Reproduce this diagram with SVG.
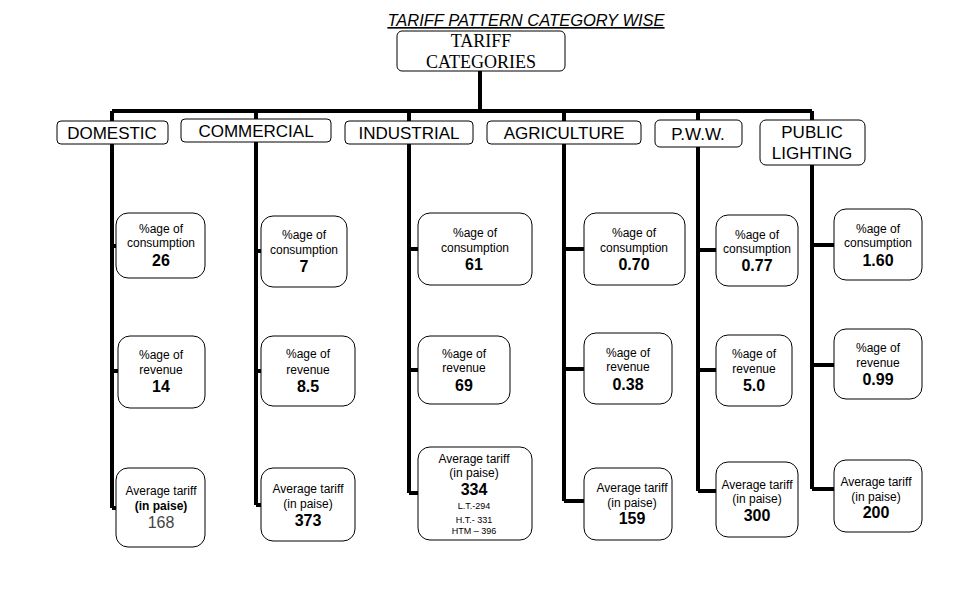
<svg xmlns="http://www.w3.org/2000/svg" width="972" height="612" viewBox="0 0 972 612">
<style>
.b{fill:#fff;stroke:#000;stroke-width:1}
.t{font-family:"Liberation Sans",Arial,sans-serif;font-size:12px;text-anchor:middle;fill:#000}
.v{font-family:"Liberation Sans",Arial,sans-serif;font-size:16px;font-weight:bold;text-anchor:middle}
.c{font-family:"Liberation Sans",Arial,sans-serif;font-size:17px;text-anchor:middle}
.s{font-family:"Liberation Sans",Arial,sans-serif;font-size:9px;text-anchor:middle}
.l{stroke:#000;stroke-width:4;fill:none}
</style>
<rect width="972" height="612" fill="#fff"/>
<text x="526" y="26" font-family="Liberation Sans,Arial,sans-serif" font-size="16.5" font-style="italic" text-anchor="middle" text-decoration="underline">TARIFF PATTERN CATEGORY WISE</text>
<g id="connectors">
<path class="l" d="M480 71V111M112 111H812M112 111V508M256 111V505M409 111V493M564 111V501M698 111V491M812 111V489"/>
<path class="l" d="M112 246H116M112 371H118M112 508H116M256 251H261M256 371H261M256 505H261M409 249H418M409 370H418M409 493H418M564 249H584M564 369H584M564 501H584M698 250H716M698 370H716M698 491H716M812 245H834M812 365H834M812 489H834"/>
</g>
<g id="root"><rect class="b" x="397" y="31" width="168" height="40" rx="5"/>
<text x="481" y="47" font-family="Liberation Serif,serif" font-size="18" text-anchor="middle">TARIFF</text>
<text x="481" y="68" font-family="Liberation Serif,serif" font-size="18" text-anchor="middle">CATEGORIES</text></g>
<g id="domestic"><rect class="b" x="57" y="121" width="111" height="23" rx="4"/><text class="c" x="112" y="139">DOMESTIC</text></g>
<g id="commercial"><rect class="b" x="181" y="119" width="150" height="23" rx="4"/><text class="c" x="256" y="137">COMMERCIAL</text></g>
<g id="industrial"><rect class="b" x="345" y="121" width="128" height="23" rx="4"/><text class="c" x="409" y="139">INDUSTRIAL</text></g>
<g id="agriculture"><rect class="b" x="487" y="121" width="154" height="23" rx="4"/><text class="c" x="564" y="139">AGRICULTURE</text></g>
<g id="pww"><rect class="b" x="655" y="120" width="87" height="27" rx="5"/><text class="c" x="698" y="140">P.W.W.</text></g>
<g id="public"><rect class="b" x="760" y="120" width="105" height="45" rx="6"/><text class="c" x="812" y="138">PUBLIC</text><text class="c" x="812" y="159">LIGHTING</text></g>

<g id="dom-cons"><rect class="b" x="116" y="213" width="89" height="65" rx="12"/><text class="t" x="161" y="233">%age of</text><text class="t" x="161" y="247">consumption</text><text class="v" x="161" y="266">26</text></g>
<g id="dom-rev"><rect class="b" x="118" y="336" width="87" height="72" rx="12"/><text class="t" x="161" y="359">%age of</text><text class="t" x="161" y="374">revenue</text><text class="v" x="161" y="392">14</text></g>
<g id="dom-avg"><rect class="b" x="116" y="468" width="89" height="79" rx="12"/><text class="t" x="161" y="495">Average tariff</text><text class="t" x="161" y="510" font-weight="bold">(in paise)</text><text x="161" y="528" font-family="Liberation Sans,Arial,sans-serif" font-size="16" text-anchor="middle" fill="#444">168</text></g>

<g id="com-cons"><rect class="b" x="261" y="216" width="86" height="71" rx="12"/><text class="t" x="304" y="239">%age of</text><text class="t" x="304" y="254">consumption</text><text class="v" x="304" y="272">7</text></g>
<g id="com-rev"><rect class="b" x="261" y="336" width="94" height="70" rx="12"/><text class="t" x="308" y="358">%age of</text><text class="t" x="308" y="374">revenue</text><text class="v" x="308" y="392">8.5</text></g>
<g id="com-avg"><rect class="b" x="261" y="468" width="94" height="73" rx="12"/><text class="t" x="308" y="493">Average tariff</text><text class="t" x="308" y="508">(in paise)</text><text class="v" x="308" y="526">373</text></g>

<g id="ind-cons"><rect class="b" x="418" y="213" width="114" height="72" rx="12"/><text class="t" x="475" y="237">%age of</text><text class="t" x="475" y="252">consumption</text><text class="v" x="474" y="270">61</text></g>
<g id="ind-rev"><rect class="b" x="418" y="336" width="92" height="68" rx="12"/><text class="t" x="464" y="358">%age of</text><text class="t" x="464" y="372">revenue</text><text class="v" x="464" y="391">69</text></g>
<g id="ind-avg"><rect class="b" x="418" y="447" width="114" height="93" rx="12"/><text class="t" x="474" y="463">Average tariff</text><text class="t" x="474" y="477">(in paise)</text><text class="v" x="474" y="495">334</text><text class="s" x="474" y="509">L.T.-294</text><text class="s" x="474" y="523">H.T.- 331</text><text class="s" x="474" y="534">HTM – 396</text></g>

<g id="agr-cons"><rect class="b" x="584" y="213" width="101" height="72" rx="12"/><text class="t" x="634" y="237">%age of</text><text class="t" x="634" y="252">consumption</text><text class="v" x="634" y="270">0.70</text></g>
<g id="agr-rev"><rect class="b" x="584" y="333" width="88" height="71" rx="12"/><text class="t" x="628" y="357">%age of</text><text class="t" x="628" y="371">revenue</text><text class="v" x="628" y="390">0.38</text></g>
<g id="agr-avg"><rect class="b" x="584" y="468" width="88" height="72" rx="12"/><text class="t" x="632" y="492">Average tariff</text><text class="t" x="632" y="507">(in paise)</text><text class="v" x="632" y="524">159</text></g>

<g id="pww-cons"><rect class="b" x="716" y="215" width="82" height="71" rx="12"/><text class="t" x="757" y="239">%age of</text><text class="t" x="757" y="253">consumption</text><text class="v" x="757" y="271">0.77</text></g>
<g id="pww-rev"><rect class="b" x="716" y="335" width="76" height="71" rx="12"/><text class="t" x="754" y="358">%age of</text><text class="t" x="754" y="373">revenue</text><text class="v" x="754" y="391">5.0</text></g>
<g id="pww-avg"><rect class="b" x="716" y="462" width="82" height="75" rx="12"/><text class="t" x="757" y="489">Average tariff</text><text class="t" x="757" y="503">(in paise)</text><text class="v" x="757" y="521">300</text></g>

<g id="pub-cons"><rect class="b" x="834" y="209" width="88" height="71" rx="12"/><text class="t" x="878" y="233">%age of</text><text class="t" x="878" y="247">consumption</text><text class="v" x="878" y="266">1.60</text></g>
<g id="pub-rev"><rect class="b" x="834" y="329" width="88" height="70" rx="12"/><text class="t" x="878" y="352">%age of</text><text class="t" x="878" y="367">revenue</text><text class="v" x="878" y="385">0.99</text></g>
<g id="pub-avg"><rect class="b" x="834" y="460" width="88" height="72" rx="12"/><text class="t" x="876" y="486">Average tariff</text><text class="t" x="876" y="501">(in paise)</text><text class="v" x="876" y="518">200</text></g>
</svg>
